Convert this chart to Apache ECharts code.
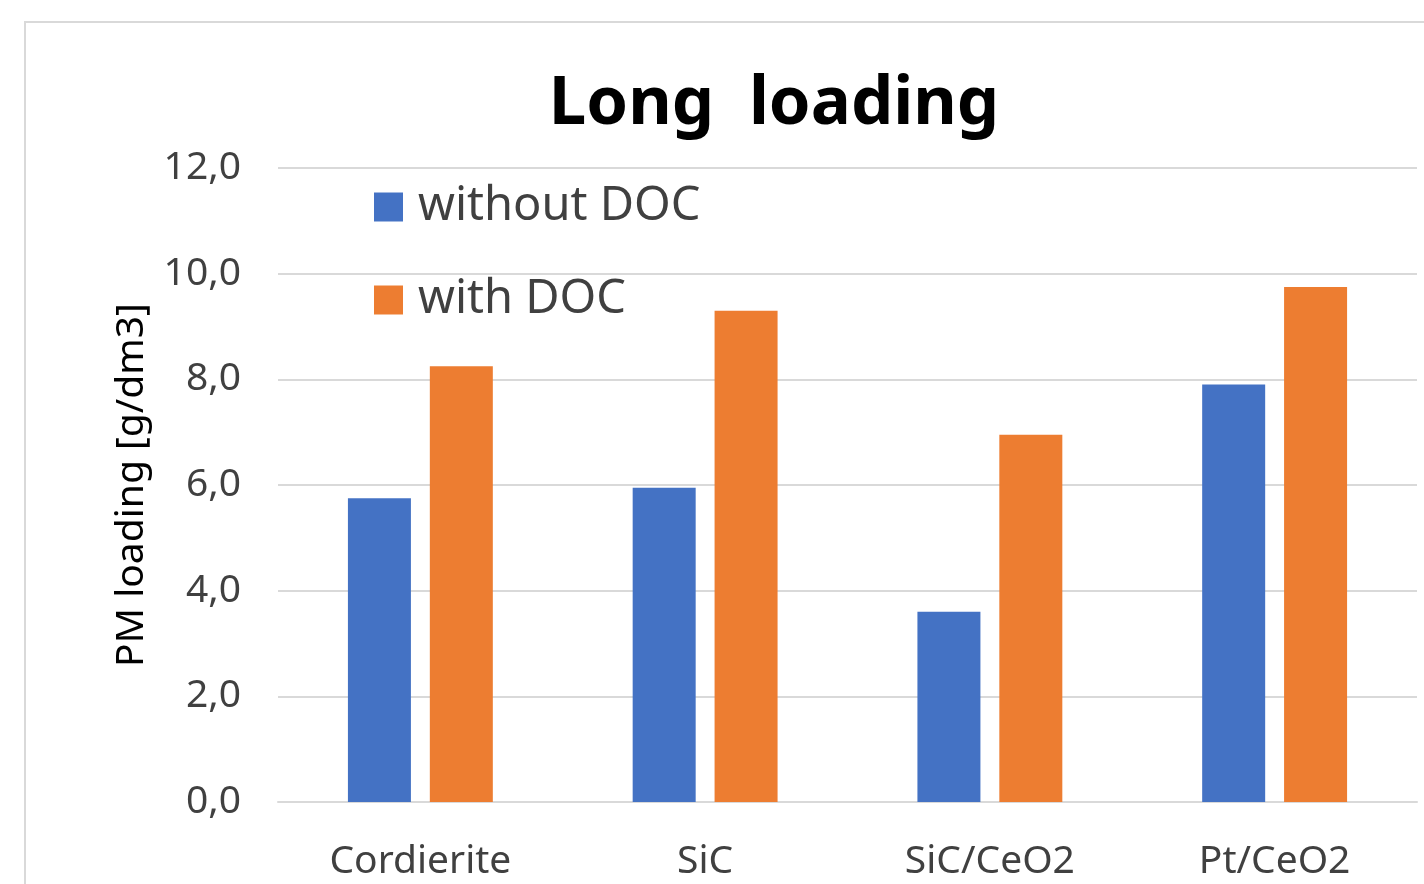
<!DOCTYPE html>
<html>
<head>
<meta charset="utf-8">
<script src="https://cdn.jsdelivr.net/npm/echarts@6/dist/echarts.min.js"></script>
<style>
html,body{margin:0;padding:0;background:#fff;}
#chart{width:1424px;height:884px;}
</style>
</head>
<body>
<div id="chart"></div>
<script>
const titleText = 'Long  loading';
const yAxisName = 'PM loading [g/dm3]';
const categories = ['Cordierite', 'SiC', 'SiC/CeO2', 'Pt/CeO2'];
const seriesNames = ['without DOC', 'with DOC'];
const withoutDOC = [5.75, 5.95, 3.6, 7.9];
const withDOC = [8.25, 9.3, 6.95, 9.75];
const yTicks = { min: 0, max: 12, interval: 2 };

const FONT = '"Noto Sans", "Open Sans", sans-serif';
const chart = echarts.init(document.getElementById('chart'), null, { renderer: 'canvas' });
chart.setOption({
  animation: false,
  backgroundColor: '#ffffff',
  graphic: [{
    type: 'rect',
    shape: { x: 25, y: 22, width: 1460, height: 920 },
    style: { fill: 'none', stroke: '#d9d9d9', lineWidth: 2 },
    silent: true
  }],
  title: {
    text: titleText,
    left: 769,
    top: 100,
    textAlign: 'center',
    textVerticalAlign: 'middle',
    textStyle: { fontFamily: FONT, fontWeight: 'bold', fontSize: 67, color: '#000000' }
  },
  legend: {
    orient: 'vertical',
    left: 374,
    top: 177,
    padding: 0,
    icon: 'rect',
    itemWidth: 29,
    itemHeight: 29,
    itemGap: 33,
    textStyle: { fontFamily: FONT, fontSize: 47, color: '#404040', lineHeight: 60, padding: [0, 0, 0, 10] },
    data: seriesNames
  },
  grid: { left: 278, right: 7, top: 168, bottom: 82, containLabel: false },
  xAxis: {
    type: 'category',
    data: categories,
    axisLine: { show: true, lineStyle: { color: '#d9d9d9', width: 2 } },
    axisTick: { show: false },
    axisLabel: { fontFamily: FONT, fontSize: 39, color: '#404040', margin: 40 }
  },
  yAxis: {
    type: 'value',
    min: yTicks.min,
    max: yTicks.max,
    interval: yTicks.interval,
    name: yAxisName,
    nameLocation: 'middle',
    nameGap: 127,
    nameTextStyle: { fontFamily: FONT, fontSize: 39, color: '#000000' },
    axisLine: { show: false },
    axisTick: { show: false },
    splitLine: { lineStyle: { color: '#d9d9d9', width: 2 } },
    axisLabel: {
      fontFamily: FONT, fontSize: 39, color: '#404040', margin: 37,
      formatter: v => v.toFixed(1).replace('.', ',')
    }
  },
  series: [
    { name: seriesNames[0], type: 'bar', data: withoutDOC, barWidth: 63, barGap: '30%', itemStyle: { color: '#4472C4' } },
    { name: seriesNames[1], type: 'bar', data: withDOC, barWidth: 63, barGap: '30%', itemStyle: { color: '#ED7D31' } }
  ]
});
</script>
</body>
</html>
